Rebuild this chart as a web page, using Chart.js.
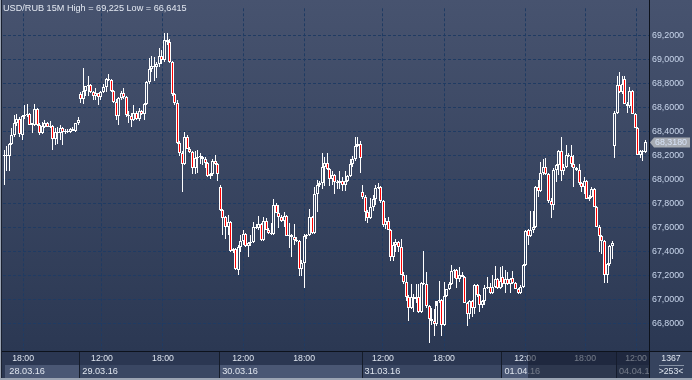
<!DOCTYPE html>
<html><head><meta charset="utf-8">
<script src="https://cdn.jsdelivr.net/npm/chart.js@4.4.1/dist/chart.umd.min.js"></script>
<style>html,body{margin:0;padding:0;background:#2c3954;}canvas{display:block}</style>
</head><body>
<canvas id="c" width="692" height="380"></canvas>
<script>
// ---- DATA: 15-minute candles, [open, high, low, close] ----
const day1 = [ // 28.03.16
[68.20,68.25,67.96,68.21],[68.21,68.28,68.07,68.20],[68.20,68.31,68.07,68.30],[68.30,68.43,68.29,68.37],
[68.37,68.54,68.36,68.47],[68.47,68.55,68.45,68.51],[68.51,68.52,68.36,68.38],[68.37,68.54,68.33,68.53],
[68.53,68.62,68.51,68.54],[68.54,68.63,68.52,68.55],[68.55,68.56,68.46,68.46],[68.46,68.47,68.39,68.47],
[68.46,68.63,68.45,68.59],[68.59,68.60,68.45,68.46],[68.46,68.47,68.37,68.39],[68.39,68.48,68.38,68.45],
[68.44,68.50,68.43,68.47],[68.47,68.48,68.44,68.44],[68.44,68.49,68.43,68.45],[68.45,68.46,68.25,68.34],
[68.34,68.43,68.29,68.40],[68.40,68.44,68.30,68.39],[68.39,68.46,68.33,68.43],[68.43,68.44,68.29,68.40],
[68.40,68.42,68.38,68.41],[68.41,68.42,68.39,68.40],[68.40,68.43,68.39,68.42],[68.42,68.44,68.41,68.41],
[68.41,68.47,68.40,68.47],[68.47,68.52,68.46,68.50]];
const day2 = [ // 29.03.16
[68.71,68.73,68.64,68.67],[68.67,68.93,68.63,68.74],[68.74,68.78,68.70,68.78],[68.78,68.86,68.70,68.79],
[68.79,68.80,68.72,68.73],[68.73,68.74,68.66,68.70],[68.70,68.76,68.66,68.72],[68.72,68.72,68.62,68.69],
[68.69,68.74,68.66,68.73],[68.73,68.80,68.72,68.77],[68.77,68.85,68.73,68.84],[68.84,68.88,68.82,68.83],
[68.83,68.84,68.73,68.74],[68.74,68.75,68.64,68.65],[68.65,68.67,68.50,68.53],[68.53,68.69,68.46,68.68],
[68.68,68.74,68.66,68.72],[68.72,68.76,68.67,68.69],[68.69,68.70,68.52,68.54],[68.54,68.57,68.47,68.53],
[68.53,68.56,68.44,68.50],[68.50,68.62,68.49,68.56],[68.56,68.57,68.50,68.51],[68.51,68.60,68.49,68.57],
[68.57,68.58,68.54,68.55],[68.55,68.64,68.50,68.63],[68.63,68.82,68.62,68.81],[68.81,69.01,68.80,68.92],
[68.92,69.03,68.90,68.95],[68.95,69.02,68.82,68.94],[68.94,68.98,68.85,68.96],[68.96,69.10,68.94,69.03],
[69.03,69.08,68.96,69.00],[69.00,69.225,68.98,69.16],[69.16,69.22,69.12,69.15],[69.15,69.17,68.97,68.98],
[68.98,68.99,68.70,68.71],[68.71,68.72,68.62,68.64],[68.64,68.66,68.30,68.31],[68.31,68.32,68.20,68.22],
[68.22,68.24,67.90,68.13],[68.13,68.40,68.12,68.36],[68.36,68.37,68.26,68.26],[68.26,68.27,68.22,68.23],
[68.23,68.24,68.05,68.10],[68.10,68.24,68.05,68.18],[68.18,68.25,68.06,68.19],[68.19,68.22,68.13,68.20],
[68.19,68.20,68.12,68.17],[68.17,68.19,68.10,68.14],[68.14,68.15,68.02,68.03],[68.03,68.06,68.01,68.05],
[68.05,68.17,68.03,68.16],[68.16,68.21,68.12,68.13],[68.13,68.14,67.99,68.05]];
const day3 = [ // 30.03.16
[67.94,67.96,67.74,67.75],[67.75,67.76,67.54,67.68],[67.69,67.70,67.51,67.61],[67.61,67.71,67.54,67.65],
[67.65,67.66,67.40,67.41],[67.41,67.43,67.39,67.42],[67.42,67.43,67.25,67.26],[67.25,67.46,67.21,67.44],
[67.44,67.54,67.40,67.49],[67.49,67.58,67.46,67.55],[67.55,67.56,67.44,67.45],[67.45,67.48,67.36,67.47],
[67.47,67.54,67.45,67.48],[67.48,67.65,67.47,67.61],[67.61,67.63,67.59,67.60],[67.60,67.70,67.58,67.63],
[67.63,67.64,67.49,67.50],[67.50,67.69,67.49,67.66],[67.66,67.68,67.58,67.58],[67.58,67.60,67.55,67.56],
[67.56,67.64,67.54,67.55],[67.55,67.84,67.54,67.79],[67.79,67.81,67.72,67.72],[67.72,67.79,67.60,67.69],
[67.69,67.71,67.65,67.66],[67.66,67.73,67.61,67.70],[67.70,67.71,67.53,67.53],[67.53,67.64,67.43,67.54],
[67.54,67.55,67.36,67.52],[67.52,67.63,67.46,67.50],[67.50,67.52,67.48,67.49],[67.49,67.50,67.20,67.26],
[67.26,67.33,67.20,67.31],[67.31,67.55,67.10,67.53],[67.53,67.55,67.51,67.54],[67.54,67.76,67.53,67.69],
[67.69,67.70,67.55,67.56],[67.56,67.94,67.55,67.88],[67.88,68.00,67.73,67.96],[67.96,67.99,67.94,67.97],
[67.97,68.22,67.92,68.11],[68.11,68.19,67.95,68.14],[68.14,68.22,68.08,68.09],[68.09,68.10,67.95,68.01],
[68.01,68.07,67.96,68.04],[68.04,68.05,67.88,67.98],[67.98,68.00,67.92,67.97],[67.97,68.07,67.92,67.99],
[67.99,68.02,67.91,67.96],[67.96,68.07,67.91,67.99],[67.99,68.04,67.98,68.03],[68.03,68.17,68.02,68.13],
[68.13,68.20,68.11,68.17],[68.17,68.36,68.16,68.28],[68.28,68.36,68.27,68.30],[68.30,68.32,68.06,68.18]];
const day4 = [ // 31.03.16
[67.90,67.96,67.84,67.86],[67.86,67.87,67.66,67.73],[67.73,67.75,67.64,67.68],[67.68,67.85,67.67,67.77],
[67.77,67.87,67.74,67.84],[67.84,67.96,67.79,67.93],[67.93,67.97,67.92,67.94],[67.94,67.95,67.81,67.82],
[67.82,67.83,67.61,67.62],[67.62,67.68,67.59,67.66],[67.66,67.69,67.58,67.58],[67.58,67.59,67.32,67.36],
[67.36,67.48,67.32,67.46],[67.46,67.51,67.40,67.48],[67.48,67.49,67.40,67.44],[67.44,67.51,67.21,67.21],
[67.21,67.23,67.13,67.15],[67.15,67.21,66.99,67.02],[67.02,67.04,66.82,66.93],[66.93,67.13,66.92,67.02],
[67.02,67.05,66.90,67.01],[67.01,67.13,66.97,67.02],[67.02,67.13,66.89,66.90],[66.90,67.15,66.89,67.14],
[67.14,67.41,67.12,67.13],[67.13,67.23,66.93,66.95],[66.95,66.96,66.6415,66.84],[66.84,66.93,66.79,66.82],
[66.82,66.92,66.70,66.80],[66.80,66.95,66.78,66.99],[66.99,67.16,66.97,67.00],[67.00,67.01,66.70,66.79],
[66.79,67.15,66.78,67.03],[67.03,67.09,67.02,67.09],[67.09,67.15,67.08,67.13],[67.13,67.29,67.12,67.24],
[67.24,67.26,67.18,67.25],[67.25,67.26,67.10,67.17],[67.17,67.27,67.15,67.21],[67.21,67.23,67.19,67.19],
[67.19,67.20,66.97,66.97],[66.97,66.98,66.78,66.88],[66.88,67.00,66.84,66.99],[66.99,67.00,66.86,66.93],
[66.93,67.13,66.88,67.12],[67.12,67.13,67.02,67.04],[67.04,67.05,66.90,66.96],[66.96,67.00,66.93,66.99],
[66.99,67.12,66.96,67.10],[67.10,67.19,67.09,67.11],[67.11,67.14,67.05,67.06],[67.06,67.21,67.05,67.11],
[67.11,67.28,67.10,67.17],[67.17,67.18,67.09,67.10],[67.10,67.27,67.09,67.16]];
const day5 = [ // 01.04.16
[67.19,67.28,67.11,67.13],[67.13,67.25,67.06,67.17],[67.17,67.23,67.12,67.13],[67.13,67.18,67.06,67.17],
[67.18,67.24,67.13,67.14],[67.14,67.15,67.09,67.09],[67.09,67.10,67.05,67.06],[67.06,67.12,67.05,67.11],
[67.11,67.30,67.10,67.29],[67.29,67.58,67.28,67.57],[67.58,67.59,67.46,67.53],[67.53,67.74,67.52,67.58],
[67.58,67.74,67.56,67.61],[67.61,67.95,67.60,67.94],[67.94,68.00,67.86,67.91],[67.91,68.15,67.90,68.06],
[68.06,68.17,68.04,68.11],[68.11,68.18,68.04,68.05],[68.05,68.06,67.81,67.82],[67.82,67.85,67.68,67.79],
[67.79,68.10,67.75,68.08],[68.08,68.13,67.98,68.12],[68.12,68.25,68.04,68.24],[68.24,68.36,67.99,68.07],
[68.07,68.13,68.04,68.11],[68.11,68.29,68.10,68.21],[68.21,68.22,68.19,68.20],[68.20,68.29,68.11,68.13],
[68.13,68.21,67.94,68.10],[68.10,68.11,68.07,68.08],[68.08,68.13,67.96,67.97],[67.97,67.98,67.90,67.94],
[67.94,68.02,67.88,67.99],[67.99,68.00,67.84,67.84],[67.84,67.87,67.82,67.86],[67.86,67.94,67.85,67.92],
[67.92,67.93,67.77,67.77],[67.77,67.78,67.61,67.61],[67.61,67.62,67.40,67.53],[67.53,67.54,67.38,67.49],
[67.49,67.50,67.14,67.21],[67.21,67.31,67.14,67.30],[67.30,67.46,67.28,67.45],[67.45,67.49,67.34,67.47]];
const day6 = [ // 04.04.16
[68.28,68.57,68.18,68.56],[68.56,68.86,68.55,68.79],[68.79,68.90,68.72,68.73],[68.73,68.86,68.71,68.80],
[68.84,68.86,68.63,68.63],[68.63,68.65,68.56,68.61],[68.61,68.77,68.60,68.74],[68.74,68.75,68.55,68.55],
[68.55,68.56,68.43,68.43],[68.43,68.44,68.21,68.21],[68.21,68.25,68.18,68.24],[68.24,68.25,68.16,68.23],
[68.23,68.33,68.22,68.318]];

const priceTicks = [66.8,67.0,67.2,67.4,67.6,67.8,68.0,68.2,68.4,68.6,68.8,69.0,69.2];
const timeTickPos = [7.4,38.4,62.4,93.9,117.9,148.9,172.9,204.8,228.4,248.4];
const timeTickLabels = ['18:00','12:00','18:00','12:00','18:00','12:00','18:00','12:00','18:00','12:00'];
const dateTickPos = [0.8,29.5,84.5,140.5,195.5,240.5];
const dateTickLabels = ['28.03.16','29.03.16','30.03.16','31.03.16','01.04.16','04.04.16'];
const titleText = 'USD/RUB 15M High = 69,225 Low = 66,6415';
const barCount = '1367';
const visibleBars = '>253<';

// ---- build datasets ----
const candles = [].concat(day1, day2, day3, day4, day5, day6);
const bodies = candles.map((c, i) => ({x: i, y: [c[0], c[3]]}));
const upper = candles.map((c, i) => ({x: i, y: [Math.max(c[0], c[3]), c[1]]}));
const lower = candles.map((c, i) => ({x: i, y: [c[2], Math.min(c[0], c[3])]}));
const lastClose = candles[candles.length - 1][3];

const FONT = "'Liberation Sans', Arial, sans-serif";
const mctx = document.createElement('canvas').getContext('2d');
function fitSize(text, width) { mctx.font = '100px ' + FONT; return +(100 * width / mctx.measureText(text).width).toFixed(2); }
const titleSize = fitSize(titleText, 184);
const priceSize = fitSize('69,2000', 32);
const timeSize = fitSize('18:00', 21.8);
const dateSize = fitSize('28.03.16', 35.7);
Chart.defaults.font.family = FONT;
Chart.defaults.font.size = timeSize;

const snap = {
  id: 'snap',
  beforeDatasetsDraw(chart) {
    chart.getSortedVisibleDatasetMetas().forEach(meta => {
      meta.data.forEach(el => {
        el.x = Math.floor(el.x) + 0.5;
        let y = Math.round(el.y), b = Math.round(el.base);
        if (meta.index === 0 && y === b) { b = y + 1; }
        el.y = y; el.base = b;
      });
    });
  }
};

const decor = {
  id: 'decor',
  beforeDraw(chart) {
    const {ctx, chartArea: a} = chart;
    const W = chart.width, H = chart.height;
    ctx.save();
    const g = ctx.createLinearGradient(0, 0, 0, a.bottom);
    g.addColorStop(0, '#47536f');
    g.addColorStop(1, '#2b3853');
    ctx.fillStyle = g;
    ctx.fillRect(0, 0, W, H);
    ctx.fillStyle = '#2b3752';
    ctx.fillRect(0, a.bottom, W, H - a.bottom);
    const xs = chart.scales.x;
    const bounds = [a.left + 2].concat(dateTickPos.slice(1).map(v => Math.round(xs.getPixelForValue(v))), [a.right]);
    for (let i = 0; i < bounds.length - 1; i++) {
      ctx.fillStyle = (i % 2 === 0) ? '#4a5774' : '#3a4763';
      ctx.fillRect(bounds[i], a.bottom + 14, bounds[i + 1] - bounds[i], 13);
    }
    ctx.strokeStyle = '#151c2a';
    ctx.lineWidth = 1;
    for (let i = 1; i < bounds.length - 1; i++) {
      const x = bounds[i] + 0.5;
      ctx.beginPath(); ctx.moveTo(x, a.bottom); ctx.lineTo(x, H - 2); ctx.stroke();
    }
    ctx.restore();
  },
  afterDraw(chart) {
    const {ctx, chartArea: a} = chart;
    const W = chart.width, H = chart.height;
    const ys = chart.scales.y;
    ctx.save();
    ctx.fillStyle = 'rgba(22,30,48,0.55)';
    ctx.fillRect(528, a.bottom + 1, a.right - 528, H - a.bottom - 3);
    ctx.fillStyle = '#36435e';
    ctx.fillRect(a.right + 1, a.bottom + 1, W - a.right - 1, H - a.bottom - 3);
    ctx.strokeStyle = '#0d121c';
    ctx.lineWidth = 1;
    ctx.beginPath(); ctx.moveTo(0, a.bottom + 0.5); ctx.lineTo(W, a.bottom + 0.5); ctx.stroke();
    ctx.beginPath(); ctx.moveTo(a.right + 0.5, 0); ctx.lineTo(a.right + 0.5, H - 2); ctx.stroke();
    ctx.strokeStyle = '#8793a6';
    ctx.beginPath(); ctx.moveTo(659, a.bottom + 14.5); ctx.lineTo(684, a.bottom + 14.5); ctx.stroke();
    ctx.fillStyle = '#9ba4b3';
    ctx.fillRect(0, 0, 1, H);
    ctx.fillRect(0, H - 2, W, 2);
    ctx.fillStyle = '#1a2130';
    ctx.fillRect(1, 0, 1, H - 2);
    ctx.font = timeSize + 'px ' + FONT;
    ctx.textBaseline = 'middle';
    ctx.textAlign = 'center';
    ctx.fillStyle = '#dfe5ef';
    ctx.fillText(barCount, 671, a.bottom + 7.5);
    ctx.fillText(visibleBars, 671, a.bottom + 21);
    ctx.font = titleSize + 'px ' + FONT;
    ctx.textAlign = 'left';
    ctx.fillStyle = '#e4e9f2';
    ctx.fillText(titleText, 3, 8);
    const py = Math.round(ys.getPixelForValue(lastClose));
    ctx.fillStyle = '#a6abb3';
    ctx.beginPath();
    ctx.moveTo(650, py + 0.5);
    ctx.lineTo(654, py - 4.5);
    ctx.lineTo(690, py - 4.5);
    ctx.lineTo(690, py + 5.5);
    ctx.lineTo(654, py + 5.5);
    ctx.closePath();
    ctx.fill();
    ctx.font = priceSize + 'px ' + FONT;
    ctx.fillStyle = '#d6e2f6';
    ctx.fillText(lastClose.toFixed(4).replace('.', ','), 655, py + 1);
    ctx.restore();
  }
};

new Chart(document.getElementById('c'), {
  type: 'bar',
  data: {
    datasets: [
      {label: 'body', data: bodies, order: 0, grouped: false, barThickness: 3,
       borderWidth: 1, borderColor: '#ffffff', borderSkipped: false, inflateAmount: 0,
       backgroundColor: (ctx) => { const c = candles[ctx.dataIndex]; return (c && c[3] < c[0]) ? '#ff0000' : 'rgba(0,0,0,0)'; }},
      {label: 'upper', data: upper, order: 1, grouped: false, barThickness: 1,
       borderWidth: 0, inflateAmount: 0, backgroundColor: '#ffffff'},
      {label: 'lower', data: lower, order: 1, grouped: false, barThickness: 1,
       borderWidth: 0, inflateAmount: 0, backgroundColor: '#ffffff'}
    ]
  },
  options: {
    responsive: false, animation: false, events: [],
    layout: {padding: {left: 3, right: 0, top: 0, bottom: 2}},
    plugins: {legend: {display: false}, tooltip: {enabled: false}, title: {display: false}},
    scales: {
      x: {
        type: 'linear', position: 'bottom', min: -0.5, max: 253.5, offset: false,
        grid: {offset: false, color: '#1f3b63', drawTicks: false, lineWidth: 1},
        border: {display: false, dash: [3, 2]},
        afterBuildTicks: (s) => { s.ticks = timeTickPos.map(v => ({value: v})); },
        afterFit: (s) => { s.height = 13; },
        ticks: {autoSkip: false, maxRotation: 0, padding: 2, color: '#dfe5ef',
                font: {size: timeSize}, callback: (v, i) => timeTickLabels[i]}
      },
      x2: {
        type: 'linear', position: 'bottom', min: -0.5, max: 253.5, offset: false,
        grid: {display: false, drawTicks: false, offset: false}, border: {display: false},
        afterBuildTicks: (s) => { s.ticks = dateTickPos.map(v => ({value: v})); },
        afterFit: (s) => { s.height = 14; },
        ticks: {autoSkip: false, maxRotation: 0, align: 'start', labelOffset: 3, padding: 2,
                color: '#dfe5ef', font: {size: dateSize}, callback: (v, i) => dateTickLabels[i]}
      },
      y: {
        type: 'linear', position: 'right', min: 66.574, max: 69.4276, beginAtZero: false,
        grid: {color: '#1f3b63', drawTicks: false},
        border: {display: true, color: '#0d121c', dash: [3, 2]},
        afterBuildTicks: (s) => { s.ticks = priceTicks.map(v => ({value: v})); },
        afterFit: (s) => { s.width = 43; },
        ticks: {padding: 3, color: '#c9d6ec', font: {size: priceSize},
                callback: (v) => Number(v).toFixed(4).replace('.', ',')}
      }
    }
  },
  plugins: [snap, decor]
});
</script>
</body></html>
